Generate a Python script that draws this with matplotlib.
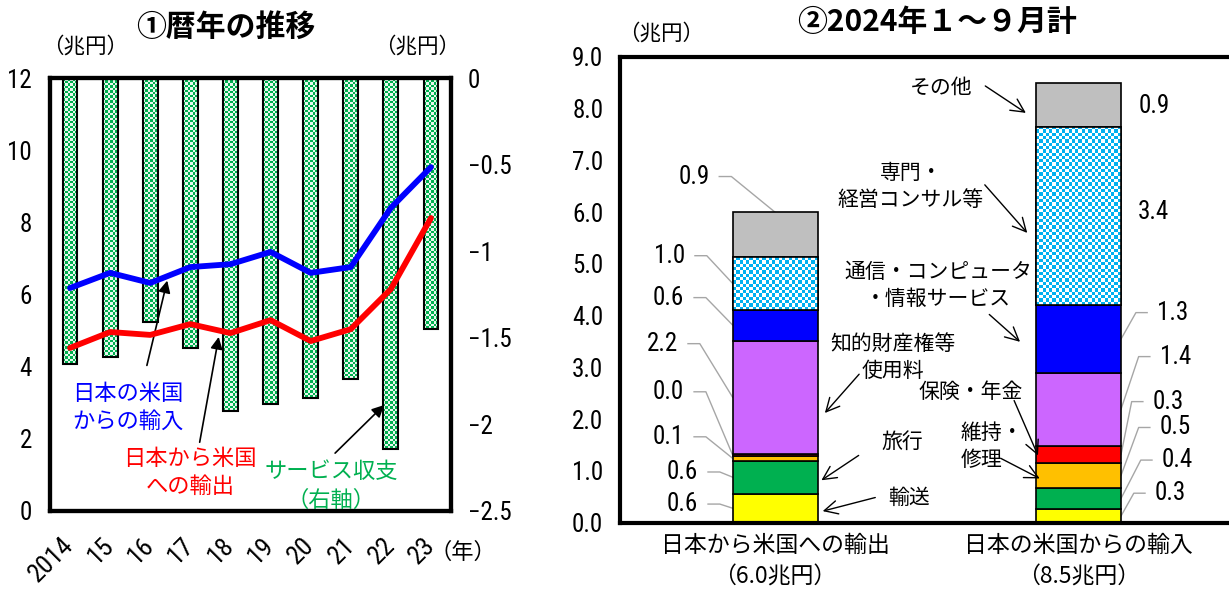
import numpy as np
import matplotlib
matplotlib.use('Agg')
import matplotlib.pyplot as plt
from matplotlib.colors import to_rgb

plt.rcParams['font.family'] = ['Noto Sans CJK JP', 'DejaVu Sans']
NUM = ['Liberation Sans Narrow', 'DejaVu Sans Condensed', 'Noto Sans Condensed',
       'Roboto Condensed', 'DejaVu Sans']
NUMKW = dict(family=NUM, fontstretch='condensed')

# ① annual series (trillion yen)
years = ['2014', '15', '16', '17', '18', '19', '20', '21', '22', '23']
services = [-1.65, -1.61, -1.41, -1.56, -1.92, -1.88, -1.85, -1.74, -2.14, -1.45]
imports_us = [6.18, 6.60, 6.32, 6.76, 6.84, 7.18, 6.60, 6.76, 8.40, 9.53]
exports_us = [4.52, 4.96, 4.88, 5.18, 4.93, 5.29, 4.71, 5.04, 6.15, 8.12]

# ② Jan-Sep 2024 breakdown (trillion yen)
items = ['輸送', '旅行', '維持・修理', '保険・年金', '知的財産権等使用料',
         '通信・コンピュータ・情報サービス', '専門・経営コンサル等', 'その他']
exp_vals = [0.56, 0.64, 0.09, 0.04, 2.19, 0.60, 1.01, 0.87]
imp_vals = [0.26, 0.42, 0.47, 0.34, 1.41, 1.30, 3.44, 0.86]
item_colors = ['#FFFF00', '#00B050', '#FFC000', '#FF0000', '#CC66FF',
               '#0000FF', '#00B0F0', '#BFBFBF']
groups = ['日本から米国への輸出', '日本の米国からの輸入']

W, H = 1229, 601
fig = plt.figure(figsize=(W / 100, H / 100), dpi=100)


def checker(ax, bar, c1, c2, cell):
    x, y, w, h = bar.get_x(), bar.get_y(), bar.get_width(), bar.get_height()
    (px0, py0), (px1, py1) = ax.transData.transform([(x, y), (x + w, y + h)])
    nx = max(1, int(round(abs(px1 - px0) / cell)))
    ny = max(1, int(round(abs(py1 - py0) / cell)))
    ii, jj = np.indices((ny, nx))
    img = np.where(((ii + jj) % 2 == 0)[..., None],
                   np.array(to_rgb(c1)), np.array(to_rgb(c2)))
    im = ax.imshow(img, extent=(x, x + w, y, y + h), origin='lower',
                   aspect='auto', interpolation='nearest',
                   zorder=bar.get_zorder() + 0.1)
    im.set_clip_path(bar)


# ---------- left panel ----------
ax1 = fig.add_axes([50 / W, 1 - 511 / H, 401 / W, 433 / H])
ax2 = ax1.twinx()
ax1.set_zorder(ax2.get_zorder() + 1)
ax1.patch.set_visible(False)

xi = np.arange(len(years))
ax2.set_xlim(-0.5, 9.5)
ax2.set_ylim(-2.5, 0)
bars = ax2.bar(xi, services, width=0.37, color='#00B050', linewidth=0, zorder=2)
for b in bars:
    checker(ax2, b, '#00B050', '#E6F6EC', 2.5)
ax2.bar(xi, services, width=0.37, fill=False, edgecolor='black', linewidth=1.5, zorder=3)
ax2.set_xlim(-0.5, 9.5)
ax2.set_ylim(-2.5, 0)
ax2.set_yticks(np.arange(-2.5, 0.01, 0.5))
ax2.set_yticklabels(['−2.5', '−2', '−1.5', '−1', '−0.5', '0'], fontsize=18, **NUMKW)

ax1.plot(xi, imports_us, color='#0000FF', lw=4.2, solid_capstyle='round', zorder=5)
ax1.plot(xi, exports_us, color='#FF0000', lw=4.2, solid_capstyle='round', zorder=5)
ax1.set_xlim(-0.5, 9.5)
ax1.set_ylim(0, 12)
ax1.set_yticks(range(0, 13, 2))
ax1.set_yticklabels([str(v) for v in range(0, 13, 2)], fontsize=18, **NUMKW)
ax1.set_xticks(xi)
ax1.set_xticklabels(years, fontsize=19, rotation=45,
                    ha='right', va='center', rotation_mode='anchor', **NUMKW)
ax1.tick_params(axis='x', length=0, pad=22)
ax1.tick_params(axis='y', length=0, pad=13)
ax2.tick_params(axis='y', length=0, pad=12)
for a in (ax1, ax2):
    for s in a.spines.values():
        s.set_linewidth(3)

ax1.text(1.45, 2.87, '日本の米国\nからの輸入', color='#0000FF', fontsize=16,
         ha='center', va='center', linespacing=1.3)
ax1.annotate('', xy=(2.44, 6.46), xytext=(1.90, 3.96),
             arrowprops=dict(arrowstyle='-|>', color='black', lw=1.2, mutation_scale=18))
ax1.text(2.99, 1.07, '日本から米国\nへの輸出', color='#FF0000', fontsize=16,
         ha='center', va='center', linespacing=1.3)
ax1.annotate('', xy=(3.72, 4.90), xytext=(3.22, 1.83),
             arrowprops=dict(arrowstyle='-|>', color='black', lw=1.2, mutation_scale=18))
ax1.text(6.51, 0.69, 'サービス収支\n（右軸）', color='#00B050', fontsize=16,
         ha='center', va='center', linespacing=1.3)
ax1.annotate('', xy=(7.88, 2.99), xytext=(6.56, 1.55),
             arrowprops=dict(arrowstyle='-|>', color='black', lw=1.2, mutation_scale=18))
ax1.text(1.03, -0.095, '（年）', transform=ax1.transAxes, fontsize=16,
         ha='center', va='center')

fig.text(226 / W, 1 - 27 / H, '①暦年の推移', fontsize=21.5, fontweight='bold',
         ha='center', va='center')
fig.text(85 / W, 1 - 47 / H, '（兆円）', fontsize=15.5, ha='center', va='center')
fig.text(417 / W, 1 - 47 / H, '（兆円）', fontsize=15.5, ha='center', va='center')

# ---------- right panel ----------
ax3 = fig.add_axes([620 / W, 1 - 522.7 / H, 610 / W, 465.7 / H])
ax3.set_xlim(-0.511, 1.499)
ax3.set_ylim(0, 9)
series = [exp_vals, imp_vals]
bw = 0.28
segs = {}
for k in range(len(items)):
    vals = [exp_vals[k], imp_vals[k]]
    bottoms = [sum(exp_vals[:k]), sum(imp_vals[:k])]
    segs[k] = ax3.bar([0, 1], vals, bottom=bottoms, width=bw, color=item_colors[k],
                      edgecolor='black', linewidth=1.2, zorder=2)
for b in segs[6]:
    checker(ax3, b, '#00B0F0', '#FFFFFF', 3.3)
    ax3.add_patch(plt.Rectangle((b.get_x(), b.get_y()), b.get_width(), b.get_height(),
                                fill=False, edgecolor='black', linewidth=1.2, zorder=3))
ax3.set_xlim(-0.511, 1.499)
ax3.set_ylim(0, 9)

ax3.set_yticks(np.arange(0, 9.01, 1))
ax3.set_yticklabels([f'{v:.1f}' for v in np.arange(0, 9.01, 1)], fontsize=18, **NUMKW)
ax3.set_xticks([0, 1])
ax3.set_xticklabels([f'{g}\n（{sum(v):.1f}兆円）' for g, v in zip(groups, series)],
                    fontsize=16.5, linespacing=1.5)
ax3.tick_params(length=0)
ax3.tick_params(axis='y', pad=12)
ax3.tick_params(axis='x', pad=8)
ax3.spines['right'].set_visible(False)
for s in ('left', 'top', 'bottom'):
    ax3.spines[s].set_linewidth(3)

fig.text(937 / W, 1 - 22 / H, '②2024年１～９月計', fontsize=21.5, fontweight='bold',
         ha='center', va='center')
fig.text(661 / W, 1 - 34 / H, '（兆円）', fontsize=15.5, ha='center', va='center')

# value labels with grey leader lines
lead = dict(color='#A6A6A6', lw=1.0, zorder=1)
exp_lab_y = [0.36, 0.98, 1.66, 2.53, 3.46, 4.35, 5.16]
exp_lab_x = [-0.254, -0.254, -0.300, -0.300, -0.320, -0.300, -0.297]
cum = np.cumsum([0] + exp_vals)
for k in range(7):
    lx, ly = exp_lab_x[k], exp_lab_y[k]
    ax3.text(lx, ly, f'{exp_vals[k]:.1f}', fontsize=18, ha='right', va='center', **NUMKW)
    tip = (-bw / 2, cum[k] + exp_vals[k] / 2)
    ax3.plot([lx + 0.033, lx + 0.072, tip[0]], [ly, ly, tip[1]], **lead)
# その他 label points to the top of the stack
lx, ly = -0.214, 6.69
ax3.text(lx, ly, f'{exp_vals[7]:.1f}', fontsize=18, ha='right', va='center', **NUMKW)
ax3.plot([lx + 0.03, lx + 0.07, 0], [ly, ly, cum[8]], **lead)

imp_lab_y = [0.57, 1.21, 1.84, 2.34, 3.21, 4.06]
imp_lab_x = [1.252, 1.275, 1.268, 1.245, 1.268, 1.259]
cum = np.cumsum([0] + imp_vals)
for k in range(6):
    lx, ly = imp_lab_x[k], imp_lab_y[k]
    ax3.text(lx, ly, f'{imp_vals[k]:.1f}', fontsize=18, ha='left', va='center', **NUMKW)
    tip = (1 + bw / 2, cum[k] + imp_vals[k] / 2)
    ax3.plot([lx - 0.033, lx - 0.07, tip[0]], [ly, ly, tip[1]], **lead)
ax3.text(1.196, 6.01, f'{imp_vals[6]:.1f}', fontsize=18, ha='left', va='center', **NUMKW)
ax3.text(1.199, 8.06, f'{imp_vals[7]:.1f}', fontsize=18, ha='left', va='center', **NUMKW)

# category names with arrows
arr = dict(arrowstyle='->', color='black', lw=1.0, mutation_scale=24)
notes = [
    ('その他', (0.649, 8.41), 'right', (0.685, 8.47), (0.834, 7.89)),
    ('専門・\n経営コンサル等', (0.448, 6.49), 'center', (0.685, 6.57), (0.837, 5.56)),
    ('通信・コンピュータ\n・情報サービス', (0.537, 4.58), 'center', (0.699, 4.06), (0.814, 3.46)),
    ('知的財産権等\n使用料', (0.389, 3.20), 'center', (0.283, 2.91), (0.158, 2.08)),
    ('保険・年金', (0.643, 2.53), 'center', (0.784, 2.41), (0.870, 1.25)),
    ('維持・\n修理', (0.610, 1.47), 'left', (0.735, 1.27), (0.880, 0.83)),
    ('旅行', (0.418, 1.56), 'center', (0.283, 1.33), (0.145, 0.79)),
    ('輸送', (0.442, 0.48), 'center', (0.339, 0.50), (0.148, 0.21)),
]
for txt, pos, ha, tail, tip in notes:
    ax3.text(pos[0], pos[1], txt, fontsize=15, ha=ha, va='center',
             linespacing=1.3, multialignment='center' if ha == 'center' else 'left')
    ax3.annotate('', xy=tip, xytext=tail, arrowprops=arr)

fig.savefig('out.png', dpi=100, facecolor='white')
